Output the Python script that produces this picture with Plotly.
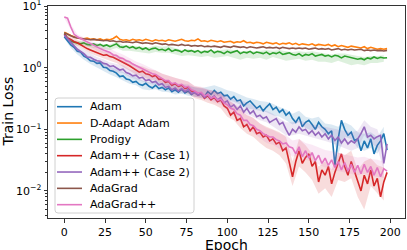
import plotly.graph_objects as go

epochs = list(range(0, 200, 2))
band_epochs = list(range(0, 200, 4))

names = ["Adam", "D-Adapt Adam", "Prodigy", "Adam++ (Case 1)", "Adam++ (Case 2)", "AdaGrad", "AdaGrad++"]
colors = ["#1f77b4", "#ff7f0e", "#2ca02c", "#d62728", "#9467bd", "#8c564b", "#e377c2"]

xtick_vals = [0, 25, 50, 75, 100, 125, 150, 175, 200]
ytick_vals = [0.01, 0.1, 1, 10]
ytick_text = ["10<sup>−2</sup>", "10<sup>−1</sup>", "10<sup>0</sup>", "10<sup>1</sup>"]

adam = [3.20, 2.75, 2.35, 2.15, 1.85, 1.80, 1.55, 1.45, 1.30, 1.28,
        1.18, 1.20, 1.02, 1.00, 0.90, 0.88, 0.82, 0.72, 0.74, 0.66,
        0.64, 0.58, 0.60, 0.54, 0.52, 0.56, 0.50, 0.47, 0.52, 0.46,
        0.48, 0.44, 0.47, 0.41, 0.44, 0.40, 0.45, 0.39, 0.42, 0.37,
        0.40, 0.36, 0.39, 0.34, 0.41, 0.37, 0.43, 0.38, 0.40, 0.35,
        0.36, 0.31, 0.34, 0.29, 0.30, 0.24, 0.27, 0.29, 0.25, 0.22,
        0.24, 0.20, 0.23, 0.26, 0.21, 0.23, 0.19, 0.21, 0.17, 0.19,
        0.15, 0.13, 0.16, 0.11, 0.13, 0.14, 0.12, 0.10, 0.13, 0.11,
        0.10, 0.085, 0.095, 0.026, 0.07, 0.14, 0.10, 0.08, 0.09, 0.066,
        0.07, 0.045, 0.065, 0.05, 0.07, 0.040, 0.055, 0.065, 0.085, 0.046]

dadapt = [3.80, 3.55, 3.35, 3.20, 3.05, 3.00, 2.95, 3.05, 2.90, 2.95,
          2.85, 2.95, 2.80, 2.90, 2.85, 3.00, 3.25, 2.90, 2.80, 2.85,
          2.75, 2.90, 2.80, 2.85, 2.75, 2.90, 2.80, 2.70, 2.85, 2.75,
          2.80, 2.70, 2.85, 2.75, 2.70, 2.80, 2.90, 2.75, 2.70, 2.80,
          2.75, 2.95, 2.70, 2.75, 2.65, 2.80, 2.70, 2.65, 2.75, 2.60,
          2.65, 2.70, 2.55, 2.65, 2.60, 2.75, 2.55, 2.60, 2.50, 2.60,
          2.55, 2.45, 2.60, 2.50, 2.45, 2.55, 2.40, 2.50, 2.45, 2.55,
          2.40, 2.50, 2.35, 2.45, 2.40, 2.35, 2.45, 2.30, 2.40, 2.35,
          2.30, 2.40, 2.25, 2.35, 2.20, 2.30, 2.25, 2.15, 2.25, 2.20,
          2.15, 2.10, 2.20, 2.05, 2.15, 2.10, 2.00, 2.05, 2.00, 2.05]

prodigy = [3.60, 3.00, 2.70, 2.60, 2.50, 2.45, 2.55, 2.40, 2.35, 2.45,
           2.30, 2.40, 2.25, 2.35, 2.20, 2.30, 2.45, 2.20, 2.15, 2.25,
           2.10, 2.20, 2.05, 2.15, 2.00, 2.10, 1.95, 2.05, 2.10, 1.95,
           2.00, 1.90, 2.05, 1.85, 1.95, 1.90, 1.80, 1.95, 1.85, 1.90,
           1.80, 1.90, 1.75, 1.85, 1.80, 1.95, 1.75, 1.85, 1.80, 1.70,
           1.85, 1.75, 1.80, 1.90, 1.70, 1.80, 1.75, 1.85, 1.70, 1.80,
           1.75, 1.70, 1.80, 1.65, 1.75, 1.70, 1.80, 1.65, 1.70, 1.75,
           1.65, 1.60, 1.70, 1.55, 1.65, 1.60, 1.70, 1.55, 1.60, 1.65,
           1.55, 1.60, 1.50, 1.60, 1.55, 1.45, 1.55, 1.50, 1.45, 1.40,
           1.38, 1.42, 1.35, 1.45, 1.40, 1.50, 1.42, 1.48, 1.44, 1.46]

case1 = [3.50, 3.05, 2.90, 2.65, 2.55, 2.35, 2.20, 2.05, 1.95, 1.85,
         1.80, 1.70, 1.60, 1.62, 1.52, 1.48, 1.40, 1.30, 1.22, 1.15,
         1.08, 1.00, 0.92, 0.85, 0.88, 0.80, 0.78, 0.72, 0.75, 0.65,
         0.66, 0.58, 0.60, 0.52, 0.55, 0.50, 0.52, 0.46, 0.48, 0.42,
         0.40, 0.36, 0.38, 0.32, 0.35, 0.30, 0.33, 0.28, 0.30, 0.24,
         0.22, 0.17, 0.19, 0.14, 0.15, 0.11, 0.12, 0.095, 0.11, 0.085,
         0.09, 0.075, 0.08, 0.065, 0.07, 0.058, 0.062, 0.045, 0.05, 0.03,
         0.017, 0.03, 0.045, 0.028, 0.035, 0.04, 0.025, 0.03, 0.014, 0.022,
         0.018, 0.025, 0.013, 0.02, 0.028, 0.04, 0.025, 0.018, 0.03, 0.021,
         0.014, 0.010, 0.018, 0.013, 0.022, 0.012, 0.016, 0.008, 0.014, 0.020]

case2 = [3.40, 3.00, 2.55, 2.30, 2.00, 1.85, 1.70, 1.50, 1.48, 1.38,
         1.30, 1.28, 1.18, 1.15, 1.05, 1.08, 0.98, 0.92, 0.95, 0.84,
         0.80, 0.74, 0.76, 0.68, 0.70, 0.62, 0.64, 0.58, 0.60, 0.53,
         0.55, 0.48, 0.50, 0.44, 0.47, 0.42, 0.46, 0.41, 0.45, 0.38,
         0.40, 0.36, 0.38, 0.33, 0.37, 0.32, 0.35, 0.30, 0.33, 0.27,
         0.29, 0.23, 0.25, 0.21, 0.24, 0.19, 0.22, 0.18, 0.20, 0.16,
         0.17, 0.15, 0.16, 0.13, 0.14, 0.15, 0.12, 0.13, 0.10, 0.08,
         0.10, 0.09, 0.11, 0.095, 0.10, 0.085, 0.095, 0.08, 0.09, 0.075,
         0.085, 0.07, 0.08, 0.066, 0.075, 0.06, 0.07, 0.058, 0.065, 0.06,
         0.07, 0.085, 0.11, 0.075, 0.08, 0.07, 0.076, 0.08, 0.028, 0.058]

adagrad = [3.70, 3.50, 3.30, 3.15, 3.05, 3.00, 2.95, 2.90, 2.85, 2.90,
           2.85, 2.80, 2.75, 2.80, 2.70, 2.75, 2.65, 2.70, 2.60, 2.65,
           2.60, 2.55, 2.65, 2.55, 2.50, 2.55, 2.50, 2.45, 2.55, 2.45,
           2.40, 2.45, 2.35, 2.40, 2.35, 2.30, 2.40, 2.30, 2.35, 2.25,
           2.30, 2.25, 2.30, 2.20, 2.25, 2.20, 2.25, 2.20, 2.15, 2.25,
           2.20, 2.15, 2.25, 2.20, 2.15, 2.20, 2.10, 2.20, 2.15, 2.10,
           2.15, 2.20, 2.10, 2.15, 2.10, 2.15, 2.05, 2.15, 2.10, 2.05,
           2.10, 2.05, 2.10, 2.05, 2.10, 2.00, 2.05, 2.10, 2.00, 2.05,
           2.00, 2.05, 1.95, 2.00, 2.05, 1.95, 2.00, 1.95, 2.00, 1.95,
           1.95, 2.00, 1.90, 1.95, 1.90, 1.95, 1.90, 1.92, 1.88, 1.92]

adagradpp = [6.70, 6.40, 4.60, 3.50, 3.20, 3.00, 2.80, 2.60, 2.45, 2.30,
             2.15, 2.05, 1.95, 1.85, 1.78, 1.62, 1.58, 1.45, 1.42, 1.30,
             1.25, 1.15, 1.08, 1.02, 0.98, 0.90, 0.86, 0.80, 0.78, 0.72,
             0.68, 0.62, 0.62, 0.55, 0.57, 0.52, 0.54, 0.48, 0.50, 0.44,
             0.42, 0.39, 0.40, 0.35, 0.37, 0.32, 0.34, 0.30, 0.31, 0.27,
             0.25, 0.22, 0.21, 0.18, 0.17, 0.14, 0.14, 0.12, 0.115, 0.10,
             0.095, 0.085, 0.08, 0.075, 0.075, 0.068, 0.065, 0.058, 0.060, 0.052,
             0.050, 0.040, 0.052, 0.036, 0.045, 0.034, 0.042, 0.031, 0.038, 0.028,
             0.034, 0.026, 0.032, 0.024, 0.030, 0.022, 0.029, 0.021, 0.027, 0.020,
             0.026, 0.019, 0.027, 0.020, 0.025, 0.018, 0.024, 0.017, 0.023, 0.021]

# min / max band across runs (every 4 epochs)
adam_lo = [3.0, 2.1, 1.65, 1.35, 1.15, 1.02, 0.88, 0.78, 0.70, 0.63, 0.55, 0.52, 0.45, 0.43, 0.45, 0.41, 0.40, 0.37, 0.38, 0.35,
           0.34, 0.33, 0.34, 0.36, 0.34, 0.30, 0.28, 0.25, 0.22, 0.21, 0.20, 0.19, 0.17, 0.16, 0.14, 0.12, 0.13, 0.105, 0.095, 0.105,
           0.08, 0.075, 0.04, 0.075, 0.07, 0.05, 0.045, 0.05, 0.04, 0.06]
adam_hi = [3.4, 2.6, 2.1, 1.8, 1.5, 1.35, 1.2, 1.05, 0.95, 0.86, 0.75, 0.70, 0.62, 0.58, 0.62, 0.56, 0.55, 0.52, 0.54, 0.50,
           0.48, 0.47, 0.49, 0.52, 0.48, 0.43, 0.41, 0.37, 0.33, 0.31, 0.29, 0.28, 0.26, 0.23, 0.21, 0.18, 0.20, 0.16, 0.15, 0.16,
           0.125, 0.12, 0.11, 0.13, 0.115, 0.09, 0.085, 0.09, 0.075, 0.11]
prodigy_lo = [3.4, 2.5, 2.3, 2.3, 2.15, 2.1, 2.0, 1.95, 2.1, 1.9, 1.9, 1.8, 1.75, 1.7, 1.8, 1.75, 1.75, 1.65, 1.55, 1.6,
              1.55, 1.5, 1.55, 1.45, 1.5, 1.55, 1.45, 1.35, 1.45, 1.4, 1.45, 1.35, 1.5, 1.4, 1.3, 1.35, 1.4, 1.3, 1.35, 1.25,
              1.25, 1.2, 1.3, 1.2, 1.1, 1.15, 1.1, 1.2, 1.2, 1.25]
prodigy_hi = [3.8, 2.9, 2.7, 2.75, 2.55, 2.5, 2.45, 2.4, 2.65, 2.35, 2.3, 2.25, 2.2, 2.15, 2.3, 2.2, 2.25, 2.1, 1.95, 2.0,
              1.95, 1.9, 1.95, 1.9, 1.95, 2.0, 1.95, 1.85, 1.9, 1.85, 1.9, 1.95, 1.9, 1.95, 1.85, 1.8, 1.85, 1.8, 1.85, 1.75,
              1.7, 1.65, 1.7, 1.7, 1.6, 1.55, 1.5, 1.55, 1.55, 1.6]
case1_lo = [3.3, 2.6, 2.3, 1.95, 1.7, 1.55, 1.4, 1.3, 1.2, 1.02, 0.9, 0.78, 0.72, 0.64, 0.62, 0.54, 0.48, 0.44, 0.42, 0.38,
            0.32, 0.3, 0.27, 0.25, 0.22, 0.16, 0.14, 0.105, 0.085, 0.075, 0.06, 0.05, 0.045, 0.038, 0.028, 0.012, 0.025, 0.02, 0.015, 0.009,
            0.011, 0.008, 0.015, 0.014, 0.016, 0.008, 0.005, 0.012, 0.009, 0.007]
case1_hi = [3.7, 3.2, 2.85, 2.5, 2.25, 2.1, 1.85, 1.75, 1.65, 1.45, 1.3, 1.1, 1.05, 0.95, 0.9, 0.8, 0.74, 0.68, 0.64, 0.6,
            0.5, 0.48, 0.44, 0.42, 0.38, 0.3, 0.26, 0.21, 0.17, 0.155, 0.125, 0.11, 0.1, 0.09, 0.075, 0.03, 0.07, 0.055, 0.04, 0.025,
            0.03, 0.022, 0.042, 0.038, 0.045, 0.022, 0.03, 0.034, 0.026, 0.024]
case2_lo = [3.2, 2.3, 1.8, 1.5, 1.3, 1.15, 1.02, 0.92, 0.85, 0.82, 0.70, 0.66, 0.60, 0.55, 0.52, 0.47, 0.43, 0.40, 0.39, 0.38,
            0.34, 0.32, 0.31, 0.29, 0.27, 0.24, 0.21, 0.20, 0.18, 0.16, 0.14, 0.13, 0.11, 0.095, 0.08, 0.08, 0.085, 0.08, 0.075, 0.07,
            0.065, 0.06, 0.055, 0.05, 0.045, 0.05, 0.08, 0.06, 0.05, 0.022]
case2_hi = [3.6, 2.8, 2.25, 1.95, 1.7, 1.5, 1.38, 1.22, 1.15, 1.1, 0.94, 0.9, 0.82, 0.76, 0.72, 0.65, 0.6, 0.56, 0.55, 0.54,
            0.48, 0.46, 0.45, 0.42, 0.4, 0.35, 0.31, 0.3, 0.27, 0.25, 0.21, 0.2, 0.18, 0.15, 0.13, 0.13, 0.14, 0.13, 0.12, 0.115,
            0.11, 0.105, 0.1, 0.095, 0.09, 0.095, 0.14, 0.11, 0.1, 0.05]
adagradpp_lo = [6.4, 4.2, 2.95, 2.55, 2.2, 1.9, 1.72, 1.55, 1.38, 1.22, 1.07, 0.92, 0.83, 0.72, 0.66, 0.57, 0.52, 0.47, 0.45, 0.41,
                0.34, 0.32, 0.3, 0.27, 0.25, 0.2, 0.165, 0.13, 0.105, 0.088, 0.072, 0.06, 0.056, 0.048, 0.044, 0.036, 0.038, 0.032, 0.03, 0.027,
                0.024, 0.022, 0.021, 0.02, 0.019, 0.018, 0.019, 0.017, 0.017, 0.016]
adagradpp_hi = [7.0, 5.1, 3.5, 3.1, 2.75, 2.45, 2.2, 2.05, 1.8, 1.65, 1.45, 1.26, 1.15, 1.02, 0.92, 0.81, 0.74, 0.68, 0.65, 0.6,
                0.51, 0.49, 0.45, 0.42, 0.38, 0.31, 0.26, 0.22, 0.18, 0.15, 0.125, 0.105, 0.098, 0.086, 0.08, 0.066, 0.07, 0.06, 0.056, 0.051,
                0.046, 0.044, 0.041, 0.039, 0.037, 0.035, 0.036, 0.033, 0.032, 0.03]

series = [adam, dadapt, prodigy, case1, case2, adagrad, adagradpp]
bands = {0: (adam_lo, adam_hi), 2: (prodigy_lo, prodigy_hi), 3: (case1_lo, case1_hi),
         4: (case2_lo, case2_hi), 6: (adagradpp_lo, adagradpp_hi)}

FONT = "DejaVu Sans"
W, H = 407, 250
ML, MR, MT, MB = 48, 2, 6, 32
PW, PH = W - ML - MR, H - MT - MB


def rgba(hexc, a):
    h = hexc.lstrip("#")
    return "rgba(%d,%d,%d,%.2f)" % (int(h[0:2], 16), int(h[2:4], 16), int(h[4:6], 16), a)


def px_to_paper(xp, yp):
    return (xp - ML) / PW, (H - MB - yp) / PH


fig = go.Figure()
for i, (name, col, vals) in enumerate(zip(names, colors, series)):
    if i in bands:
        lo, hi = bands[i]
        fig.add_trace(go.Scatter(x=band_epochs + band_epochs[::-1], y=hi + lo[::-1],
                                 fill="toself", fillcolor=rgba(col, 0.16), line=dict(width=0),
                                 hoverinfo="skip", showlegend=False))
    fig.add_trace(go.Scatter(x=epochs, y=vals, mode="lines", name=name, showlegend=False,
                             line=dict(color=col, width=1.6)))

# legend box (matplotlib-style, drawn in paper coordinates)
lx0, lx1, ly0, ly1 = 55, 194, 98, 213
r = 3
rx, ry = r / PW, r / PH
x0, y1p = px_to_paper(lx0, ly0)
x1, y0p = px_to_paper(lx1, ly1)
path = (f"M {x0+rx},{y1p} L {x1-rx},{y1p} Q {x1},{y1p} {x1},{y1p-ry} "
        f"L {x1},{y0p+ry} Q {x1},{y0p} {x1-rx},{y0p} L {x0+rx},{y0p} "
        f"Q {x0},{y0p} {x0},{y0p+ry} L {x0},{y1p-ry} Q {x0},{y1p} {x0+rx},{y1p} Z")
shapes = [dict(type="path", xref="paper", yref="paper", path=path,
               fillcolor="rgba(255,255,255,0.8)", line=dict(color="#d0d0d0", width=1), layer="above")]
annotations = []
for i, (name, col) in enumerate(zip(names, colors)):
    yp = 106.7 + 16.33 * i
    ax0, ay = px_to_paper(57, yp)
    ax1, _ = px_to_paper(82, yp)
    tx, _ = px_to_paper(89, yp)
    shapes.append(dict(type="line", xref="paper", yref="paper", x0=ax0, x1=ax1, y0=ay, y1=ay,
                       line=dict(color=col, width=1.6), layer="above"))
    annotations.append(dict(text=name, xref="paper", yref="paper", x=tx, y=ay, xanchor="left",
                            yanchor="middle", showarrow=False, borderpad=0,
                            font=dict(family=FONT, size=11, color="#000")))

# axis titles
ex, ey = px_to_paper(226.5, 236)
annotations.append(dict(text="Epoch", xref="paper", yref="paper", x=ex, y=ey, xanchor="center",
                        yanchor="top", showarrow=False, borderpad=0,
                        font=dict(family=FONT, size=14, color="#000")))
tx, ty = px_to_paper(7.5, 112)
annotations.append(dict(text="Train Loss", xref="paper", yref="paper", x=tx, y=ty, xanchor="center",
                        yanchor="middle", textangle=-90, showarrow=False, borderpad=0,
                        font=dict(family=FONT, size=14, color="#000")))

axis_common = dict(showline=True, linecolor="#333", linewidth=1, mirror=True,
                   ticks="outside", ticklen=3.5, tickcolor="#333", showgrid=False, zeroline=False,
                   automargin=False, ticklabeloverflow="allow",
                   tickfont=dict(family=FONT, size=11, color="#000"))

fig.update_xaxes(range=[-10, 209], tickmode="array", tickvals=xtick_vals, **axis_common)
fig.update_yaxes(type="log", range=[-2.44, 1.004], tickmode="array", tickvals=ytick_vals, ticktext=ytick_text,
                 minor=dict(ticks="outside", ticklen=2, tickcolor="#333", dtick="D1", showgrid=False),
                 **axis_common)

fig.update_layout(
    width=W, height=H,
    margin=dict(l=ML, r=MR, t=MT, b=MB),
    plot_bgcolor="white", paper_bgcolor="white",
    font=dict(family=FONT, color="#000"),
    showlegend=False,
    shapes=shapes, annotations=annotations,
)

fig.write_html("out.html", config={"displayModeBar": False},
               post_script="document.body.style.margin='0';")
